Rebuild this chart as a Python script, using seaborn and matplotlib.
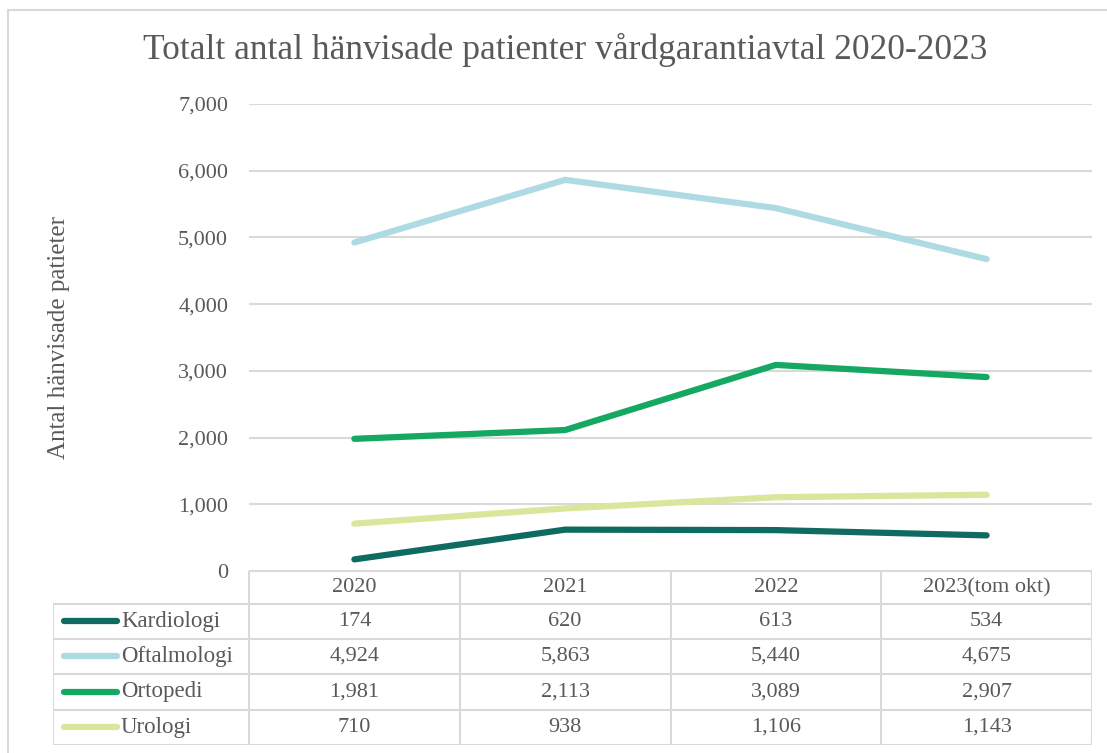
import pandas as pd
import matplotlib.pyplot as plt
import seaborn as sns
from matplotlib.lines import Line2D

# data
years = ['2020', '2021', '2022', '2023(tom okt)']
kardiologi = [174, 620, 613, 534]
oftalmologi = [4924, 5863, 5440, 4675]
ortopedi = [1981, 2113, 3089, 2907]
urologi = [710, 938, 1106, 1143]
series_names = ['Kardiologi', 'Oftalmologi', 'Ortopedi', 'Urologi']
colors = ['#0f6b5f', '#aedbe3', '#15a862', '#d9e69b']

values = [kardiologi, oftalmologi, ortopedi, urologi]
df = pd.DataFrame([
    {'serie': name, 'year': y, 'value': v}
    for name, vals in zip(series_names, values)
    for y, v in zip(years, vals)
])

sns.set_theme(style='white')
plt.rcParams['font.family'] = ['Liberation Serif', 'DejaVu Serif']
text_col = '#595959'
grid_col = '#d9d9d9'

W, H = 1107, 753
fig = plt.figure(figsize=(W / 100, H / 100), dpi=100)

# outer frame (left + top visible)
fig.add_artist(Line2D([8 / W, 8 / W], [0, 1 - 10 / H], color=grid_col, lw=1.5))
fig.add_artist(Line2D([8 / W, 1], [1 - 10 / H, 1 - 10 / H], color=grid_col, lw=1.5))

# plot area
left, right, top, bottom = 249, 1092, 104, 571
ax = fig.add_axes([left / W, 1 - bottom / H, (right - left) / W, (bottom - top) / H])
sns.lineplot(data=df, x='year', y='value', hue='serie', hue_order=series_names,
             palette=colors, linewidth=4.5, legend=False, ax=ax, sort=False)
ax.set_xlim(-0.5, 3.5)
ax.set_ylim(0, 7000)
ax.set_yticks(range(0, 7001, 1000))
ax.set_yticklabels([f'{t:,}' for t in range(0, 7001, 1000)], color=text_col, fontsize=16)
ax.tick_params(axis='y', length=0, pad=15)
ax.set_xticks([])
ax.set_xlabel('')
ax.set_ylabel('')
ax.yaxis.grid(True, color=grid_col, lw=1.5)
for s in ax.spines.values():
    s.set_visible(False)

fig.text(59 / W, 1 - 337 / H, 'Antal hänvisade patieter', rotation=90,
         ha='center', va='center', color=text_col, fontsize=18)
fig.text(565 / W, 1 - 50 / H, 'Totalt antal hänvisade patienter vårdgarantiavtal 2020-2023',
         ha='center', va='center', color=text_col, fontsize=25.5)

# data table under the chart
tl, tt, tb = 53, 571, 745
ax_t = fig.add_axes([tl / W, 1 - tb / H, (right - tl) / W, (tb - tt) / H])
ax_t.set_xlim(tl, right)
ax_t.set_ylim(tb, tt)
ax_t.axis('off')
col_w = (right - left) / len(years)
row_edges = [571, 604, 639, 674, 710, 745]
lw = 1.5
# horizontal lines
ax_t.plot([left, right], [row_edges[0]] * 2, color=grid_col, lw=lw)
for yy in row_edges[1:]:
    ax_t.plot([tl, right], [yy, yy], color=grid_col, lw=lw)
# vertical lines
ax_t.plot([tl, tl], [row_edges[1], row_edges[-1]], color=grid_col, lw=lw)
for i in range(len(years) + 1):
    xx = left + i * col_w
    ax_t.plot([xx, xx], [row_edges[0], row_edges[-1]], color=grid_col, lw=lw)

for i, y in enumerate(years):
    ax_t.text(left + (i + 0.5) * col_w, (row_edges[0] + row_edges[1]) / 2, y,
              ha='center', va='center', color=text_col, fontsize=16)
for r, (name, vals, c) in enumerate(zip(series_names, values, colors)):
    yc = (row_edges[r + 1] + row_edges[r + 2]) / 2
    ax_t.plot([64, 117], [yc, yc], color=c, lw=4.5, solid_capstyle='round')
    ax_t.text(121, yc, name, ha='left', va='center', color=text_col, fontsize=16.5)
    for i, v in enumerate(vals):
        ax_t.text(left + (i + 0.5) * col_w, yc, f'{v:,}',
                  ha='center', va='center', color=text_col, fontsize=16)

fig.savefig('out.png', dpi=100, facecolor='white')
